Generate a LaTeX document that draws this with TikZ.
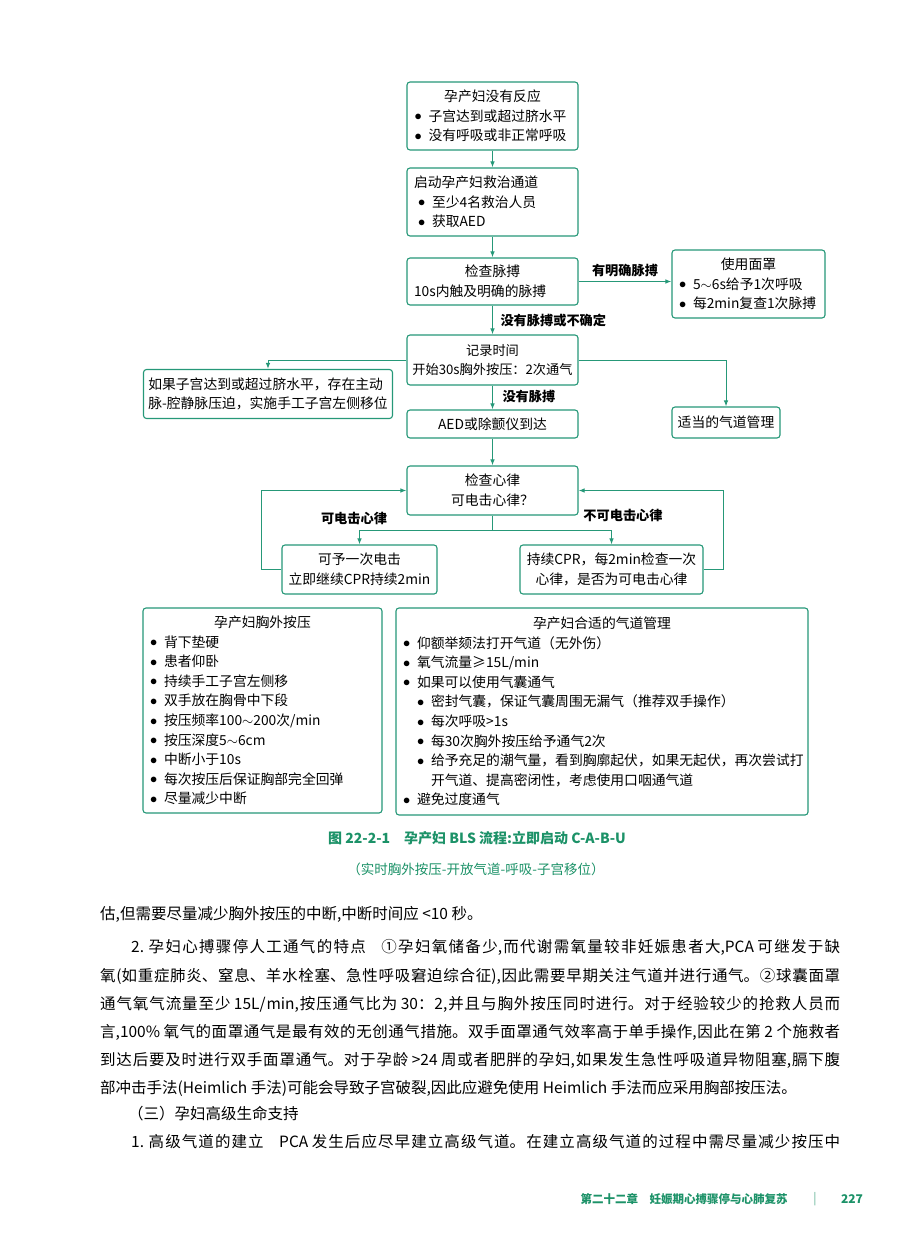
\documentclass[tikz,border=0pt]{standalone}
\usepackage{fontspec}
\setmainfont{Noto Sans CJK SC}
\usetikzlibrary{arrows.meta}
\definecolor{flowgreen}{RGB}{38,152,120}
\definecolor{capgreen}{RGB}{28,146,104}
\newcommand{\bul}{\makebox[14pt][l]{\raisebox{0.5pt}{$\bullet$}}}
\newcommand{\subbul}{\hspace*{14pt}\bul}
\newcommand{\ctitle}[1]{\makebox[\hsize]{#1}}
\newcommand{\rng}{$\sim$}
\newcommand{\bodyline}[2]{\parbox[b]{#1pt}{\XeTeXlinebreaklocale "zh"\XeTeXlinebreakskip=0pt plus 1fil
  \parfillskip=0pt\noindent #2}}
\begin{document}
\begin{tikzpicture}[x=1pt,y=-1pt,
  box/.style={draw=flowgreen, line width=1.1pt, rounded corners=3pt, inner sep=0pt,
    font=\fontsize{13.8}{19.6}\selectfont, align=center},
  flow/.style={draw=flowgreen, line width=1pt},
  arr/.style={flow, -{Latex[length=6pt,width=4.5pt]}},
  tag/.style={font=\fontsize{13.2}{16}\selectfont\bfseries},
  body/.style={anchor=base west, inner sep=0pt, font=\fontsize{15.5}{20}\selectfont}]
\useasboundingbox (0,0) rectangle (900,1241);
\fill[white] (0,0) rectangle (900,1241);

% flow chart
\node[box, minimum width=171pt, minimum height=68pt, text width=156pt, align=left] (unresp) at (492.5,116)
  {\ctitle{孕产妇没有反应}\\ \bul 子宫达到或超过脐水平\\ \bul 没有呼吸或非正常呼吸};
\node[box, minimum width=171pt, minimum height=68pt, text width=157pt, align=left] (activate) at (492.5,202)
  {启动孕产妇救治通道\\ \hspace*{4pt}\bul 至少4名救治人员\\ \hspace*{4pt}\bul 获取AED};
\node[box, minimum width=171pt, minimum height=47pt, text width=157pt, align=left] (pulse) at (492.5,281.5)
  {\ctitle{检查脉搏}\\ 10s内触及明确的脉搏};
\node[box, minimum width=153pt, minimum height=68pt, text width=139pt, align=left] (mask) at (748.5,284)
  {\ctitle{使用面罩}\\ \bul 5\rng6s给予1次呼吸\\ \bul 每2min复查1次脉搏};
\node[box, minimum width=171pt, minimum height=50pt, font=\fontsize{13.2}{19.6}\selectfont] (record) at (492.5,360)
  {记录时间\\ 开始30s胸外按压：2次通气};
\node[box, minimum width=249pt, minimum height=49pt, align=left] (tilt) at (268,394)
  {如果子宫达到或超过脐水平，存在主动\\ 脉-腔静脉压迫，实施手工子宫左侧移位};
\node[box, minimum width=108pt, minimum height=31pt] (airway) at (726,422.5) {适当的气道管理};
\node[box, minimum width=171pt, minimum height=28pt] (aed) at (492.5,424) {AED或除颤仪到达};
\node[box, minimum width=171pt, minimum height=49pt] (rhythm) at (492.5,490.5) {检查心律\\ 可电击心律？};
\node[box, minimum width=155pt, minimum height=49pt] (shock) at (359.5,569.5) {可予一次电击\\ 立即继续CPR持续2min};
\node[box, minimum width=183pt, minimum height=49pt] (cpr) at (611.5,569.5) {持续CPR，每2min检查一次\\ 心律，是否为可电击心律};

\draw[arr] (unresp) -- (activate);
\draw[arr] (activate) -- (pulse);
\draw[arr] (pulse.east) -- (pulse.east -| mask.west);
\draw[arr] (pulse) -- (record);
\draw[arr] (record.west) -| (tilt.north);
\draw[arr] (record.east) -| (airway.north);
\draw[arr] (record) -- (aed);
\draw[arr] (aed) -- (rhythm);
\draw[flow] (rhythm.south) -- ++(0,14.5) coordinate (split);
\draw[arr] (split) -| (shock.north);
\draw[arr] (split) -| (cpr.north);
\draw[arr] (shock.west) -- ++(-20,0) |- (rhythm.west);
\draw[arr] (cpr.east) -- ++(20,0) |- (rhythm.east);

\node[tag] (lblpulse) at (625,271) {有明确脉搏};
\node[tag, anchor=west] (lblnone) at (497,320) {没有脉搏或不确定};
\node[tag, anchor=west] (lblnop) at (499,396) {没有脉搏};
\node[tag] (lblshock) at (354,518) {可电击心律};
\node[tag] (lblnoshock) at (623,515) {不可电击心律};

\node[box, minimum width=239pt, minimum height=205pt, text width=225pt, align=left] (compress) at (262.5,710.5)
  {\ctitle{孕产妇胸外按压}\\ \bul 背下垫硬\\ \bul 患者仰卧\\ \bul 持续手工子宫左侧移\\ \bul 双手放在胸骨中下段\\
   \bul 按压频率100\rng200次/min\\ \bul 按压深度5\rng6cm\\ \bul 中断小于10s\\ \bul 每次按压后保证胸部完全回弹\\ \bul 尽量减少中断};
\node[box, minimum width=412pt, minimum height=207pt, text width=398pt, align=left] (airmgmt) at (602,711.5)
  {\ctitle{孕产妇合适的气道管理}\\ \bul 仰额举颏法打开气道（无外伤）\\ \bul 氧气流量≥15L/min\\ \bul 如果可以使用气囊通气\\
   \subbul 密封气囊，保证气囊周围无漏气（推荐双手操作）\\ \subbul 每次呼吸>1s\\ \subbul 每30次胸外按压给予通气2次\\
   \subbul 给予充足的潮气量，看到胸廓起伏，如果无起伏，再次尝试打\\ \hspace*{28pt}开气道、提高密闭性，考虑使用口咽通气道\\
   \bul 避免过度通气};

\node[font=\fontsize{14}{16}\selectfont\bfseries, text=capgreen] (caption) at (477,838)
  {图 22-2-1\quad 孕产妇 BLS 流程:立即启动 C-A-B-U};
\node[font=\fontsize{13.5}{16}\selectfont, text=capgreen] (subcap) at (476,869)
  {（实时胸外按压-开放气道-呼吸-子宫移位）};

% running text
\node[body] (p1) at (100,919) {估,但需要尽量减少胸外按压的中断,中断时间应 <10 秒。};
\node[body] (p2) at (131,952) {\bodyline{709}{2. 孕妇心搏骤停人工通气的特点\quad ①孕妇氧储备少,而代谢需氧量较非妊娠患者大,PCA 可继发于缺}};
\node[body] (p3) at (100,981) {\bodyline{740}{氧(如重症肺炎、窒息、羊水栓塞、急性呼吸窘迫综合征),因此需要早期关注气道并进行通气。②球囊面罩}};
\node[body] (p4) at (100,1009) {\bodyline{740}{通气氧气流量至少 15L/min,按压通气比为 30：2,并且与胸外按压同时进行。对于经验较少的抢救人员而}};
\node[body] (p5) at (100,1037) {\bodyline{740}{言,100\% 氧气的面罩通气是最有效的无创通气措施。双手面罩通气效率高于单手操作,因此在第 2 个施救者}};
\node[body] (p6) at (100,1065) {\bodyline{740}{到达后要及时进行双手面罩通气。对于孕龄 >24 周或者肥胖的孕妇,如果发生急性呼吸道异物阻塞,膈下腹}};
\node[body] (p7) at (100,1093) {部冲击手法(Heimlich 手法)可能会导致子宫破裂,因此应避免使用 Heimlich 手法而应采用胸部按压法。};
\node[body] (p8) at (128,1119) {（三）孕妇高级生命支持};
\node[body] (p9) at (131,1147) {\bodyline{709}{1. 高级气道的建立\quad PCA 发生后应尽早建立高级气道。在建立高级气道的过程中需尽量减少按压中}};

\node[anchor=west, font=\fontsize{11.5}{14}\selectfont\bfseries, text=capgreen] (chapter) at (577,1199)
  {第二十二章\quad 妊娠期心搏骤停与心肺复苏};
\node[font=\fontsize{12}{14}\selectfont, text=capgreen!70] (bar) at (815,1199) {|};
\node[font=\fontsize{12}{14}\selectfont\bfseries, text=capgreen] (pageno) at (852,1199) {227};
\end{tikzpicture}
\end{document}
